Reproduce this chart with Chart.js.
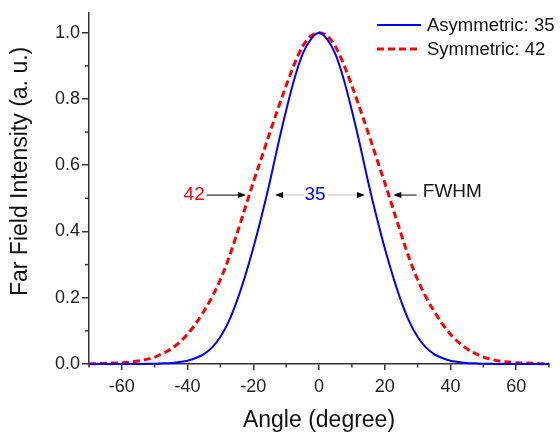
<!DOCTYPE html>
<html>
<head>
<meta charset="utf-8">
<title>Far Field Intensity</title>
<script src="https://cdn.jsdelivr.net/npm/chart.js@4.4.1/dist/chart.umd.min.js"></script>
<style>
    html, body { margin: 0; padding: 0; background: #fff; }
    #wrap { width: 560px; height: 437px; }
</style>
</head>
<body>
<div id="wrap"><canvas id="farFieldChart"></canvas></div>
<script>
// angles in degree
const angles = [-70, -67.5, -65, -62.5, -60, -57.5, -55, -52.5, -50, -47.5, -45, -42.5, -40, -37.5, -35, -32.5, -30,
    -27.5, -25, -22.5, -20, -17.5, -15, -12.5, -10, -7.5, -5, -2.5, 0, 2.5, 5, 7.5, 10, 12.5, 15, 17.5, 20, 22.5, 25,
    27.5, 30, 32.5, 35, 37.5, 40, 42.5, 45, 47.5, 50, 52.5, 55, 57.5, 60, 62.5, 65, 67.5, 70];

const asymmetric = [0, 0, 0, 0, 0, 0, 0, 0.0005, 0.001, 0.002, 0.003, 0.006, 0.01, 0.018, 0.03, 0.05, 0.082,
    0.128, 0.19, 0.265, 0.35, 0.445, 0.548, 0.66, 0.765, 0.86, 0.935, 0.98, 1.0, 0.98, 0.935, 0.86, 0.765, 0.66, 0.548,
    0.445, 0.35, 0.265, 0.19, 0.128, 0.082, 0.05, 0.03, 0.018, 0.01, 0.006, 0.003, 0.002, 0.001, 0.0005, 0, 0, 0, 0, 0, 0, 0];

const symmetric = [0.001, 0.001, 0.002, 0.003, 0.004, 0.006, 0.009, 0.014, 0.021, 0.032, 0.046, 0.065, 0.09, 0.122,
    0.16, 0.203, 0.255, 0.318, 0.392, 0.47, 0.548, 0.622, 0.697, 0.77, 0.84, 0.905, 0.958, 0.99, 1.0, 0.99, 0.958, 0.905,
    0.84, 0.77, 0.697, 0.622, 0.548, 0.47, 0.392, 0.318, 0.255, 0.203, 0.16, 0.122, 0.09, 0.065, 0.046, 0.032, 0.021,
    0.014, 0.009, 0.006, 0.004, 0.003, 0.002, 0.001, 0.001];

const seriesNames = ['Asymmetric: 35', 'Symmetric: 42'];

const xTicks = [-60, -40, -20, 0, 20, 40, 60];
const xMinorTicks = [-70, -50, -30, -10, 10, 30, 50, 70];
const yTicks = [0, 0.2, 0.4, 0.6, 0.8, 1.0];
const yMinorTicks = [0.1, 0.3, 0.5, 0.7, 0.9];

// FWHM annotation (data coordinates)
const fwhmLevel = 0.51;
const fwhmArrows = [
    { from: -34.2, to: -22.2, color: '#333' },
    { from: -4.6, to: -13.4, color: '#c8c8c8' },
    { from: 2.6, to: 14.0, color: '#c8c8c8' },
    { from: 29.7, to: 22.6, color: '#333' }
];
const fwhmLabels = [
    { text: '42', x: -38.0, y: 0.51, color: '#ff0000', align: 'center' },
    { text: '35', x: -1.2, y: 0.51, color: '#0000ff', align: 'center' },
    { text: 'FWHM', x: 31.6, y: 0.52, color: '#111', align: 'left' }
];

const FONT = '"Liberation Sans", Arial, sans-serif';
const AXIS_COLOR = '#333';

function toPoints(ys) {
    return angles.map((a, i) => ({ x: a, y: ys[i] }));
}

// minor ticks, arrows, labels, legend and y title
const extrasPlugin = {
    id: 'extras',
    afterDraw(chart) {
        const c = chart.ctx;
        const xs = chart.scales.x;
        const ys = chart.scales.y;
        const area = chart.chartArea;

        c.save();
        c.strokeStyle = AXIS_COLOR;
        c.lineWidth = 1.5;
        xMinorTicks.forEach(v => {
            const px = xs.getPixelForValue(v);
            c.beginPath();
            c.moveTo(px, area.bottom);
            c.lineTo(px, area.bottom + 3.5);
            c.stroke();
        });
        yMinorTicks.forEach(v => {
            const py = ys.getPixelForValue(v);
            c.beginPath();
            c.moveTo(area.left, py);
            c.lineTo(area.left - 4, py);
            c.stroke();
        });

        // arrows
        const ay = ys.getPixelForValue(fwhmLevel);
        fwhmArrows.forEach(a => {
            const x0 = xs.getPixelForValue(a.from);
            const x1 = xs.getPixelForValue(a.to);
            const dir = x1 > x0 ? 1 : -1;
            c.strokeStyle = a.color;
            c.lineWidth = 1.2;
            c.beginPath();
            c.moveTo(x0, ay);
            c.lineTo(x1 - dir * 6, ay);
            c.stroke();
            c.fillStyle = '#000';
            c.beginPath();
            c.moveTo(x1, ay);
            c.lineTo(x1 - dir * 8, ay - 3);
            c.lineTo(x1 - dir * 8, ay + 3);
            c.closePath();
            c.fill();
        });

        c.font = '19px ' + FONT;
        c.textBaseline = 'middle';
        fwhmLabels.forEach(l => {
            c.fillStyle = l.color;
            c.textAlign = l.align;
            c.fillText(l.text, xs.getPixelForValue(l.x), ys.getPixelForValue(l.y));
        });

        // legend
        c.font = '18.5px ' + FONT;
        c.textAlign = 'left';
        chart.data.datasets.forEach((ds, i) => {
            const ly = 25 + i * 24;
            c.strokeStyle = ds.borderColor;
            c.lineWidth = ds.borderWidth;
            c.setLineDash(ds.borderDash || []);
            c.beginPath();
            c.moveTo(377, ly);
            c.lineTo(421, ly);
            c.stroke();
            c.setLineDash([]);
            c.fillStyle = '#111';
            c.fillText(ds.label, 427, ly + 1);
        });

        // y axis title
        c.save();
        c.translate(21, (area.top + area.bottom) / 2 - 17);
        c.rotate(-Math.PI / 2);
        c.font = '23px ' + FONT;
        c.fillStyle = '#111';
        c.textAlign = 'center';
        c.fillText('Far Field Intensity (a. u.)', 0, 0);
        c.restore();

        c.restore();
    }
};

const ctx = document.getElementById('farFieldChart').getContext('2d');
const chart = new Chart(ctx, {
    type: 'line',
    data: {
        datasets: [
            {
                label: seriesNames[0],
                data: toPoints(asymmetric),
                borderColor: '#0000ff',
                borderWidth: 2,
                pointRadius: 0,
                cubicInterpolationMode: 'monotone',
                clip: false
            },
            {
                label: seriesNames[1],
                data: toPoints(symmetric),
                borderColor: '#ff0000',
                borderWidth: 3,
                borderDash: [7, 4],
                pointRadius: 0,
                cubicInterpolationMode: 'monotone',
                clip: false
            }
        ]
    },
    options: {
        responsive: true,
        maintainAspectRatio: false,
        animation: false,
        layout: { padding: { top: 7, right: 11, left: 0, bottom: 0 } },
        plugins: {
            legend: { display: false },
            tooltip: { enabled: false }
        },
        scales: {
            x: {
                type: 'linear',
                min: -70,
                max: 70,
                afterBuildTicks: scale => { scale.ticks = xTicks.map(v => ({ value: v })); },
                afterFit: scale => { scale.height = 73; },
                ticks: {
                    color: '#222',
                    font: { family: FONT, size: 18 },
                    padding: 6,
                    maxRotation: 0,
                    callback: v => String(v)
                },
                grid: { drawOnChartArea: false, drawTicks: true, tickLength: 6, color: AXIS_COLOR, lineWidth: 1.5 },
                border: { display: true, color: AXIS_COLOR, width: 1.5 },
                title: {
                    display: true,
                    text: 'Angle (degree)',
                    color: '#111',
                    font: { family: FONT, size: 23 },
                    padding: { top: 0, bottom: 3 }
                }
            },
            y: {
                type: 'linear',
                min: 0,
                max: 1.06,
                afterBuildTicks: scale => { scale.ticks = yTicks.map(v => ({ value: v })); },
                afterFit: scale => { scale.width = 89; },
                ticks: {
                    color: '#222',
                    font: { family: FONT, size: 18 },
                    padding: 2,
                    callback: v => Number(v).toFixed(1)
                },
                grid: { drawOnChartArea: false, drawTicks: true, tickLength: 7, color: AXIS_COLOR, lineWidth: 1.5 },
                border: { display: true, color: AXIS_COLOR, width: 1.5 }
            }
        }
    },
    plugins: [extrasPlugin]
});
</script>
</body>
</html>
